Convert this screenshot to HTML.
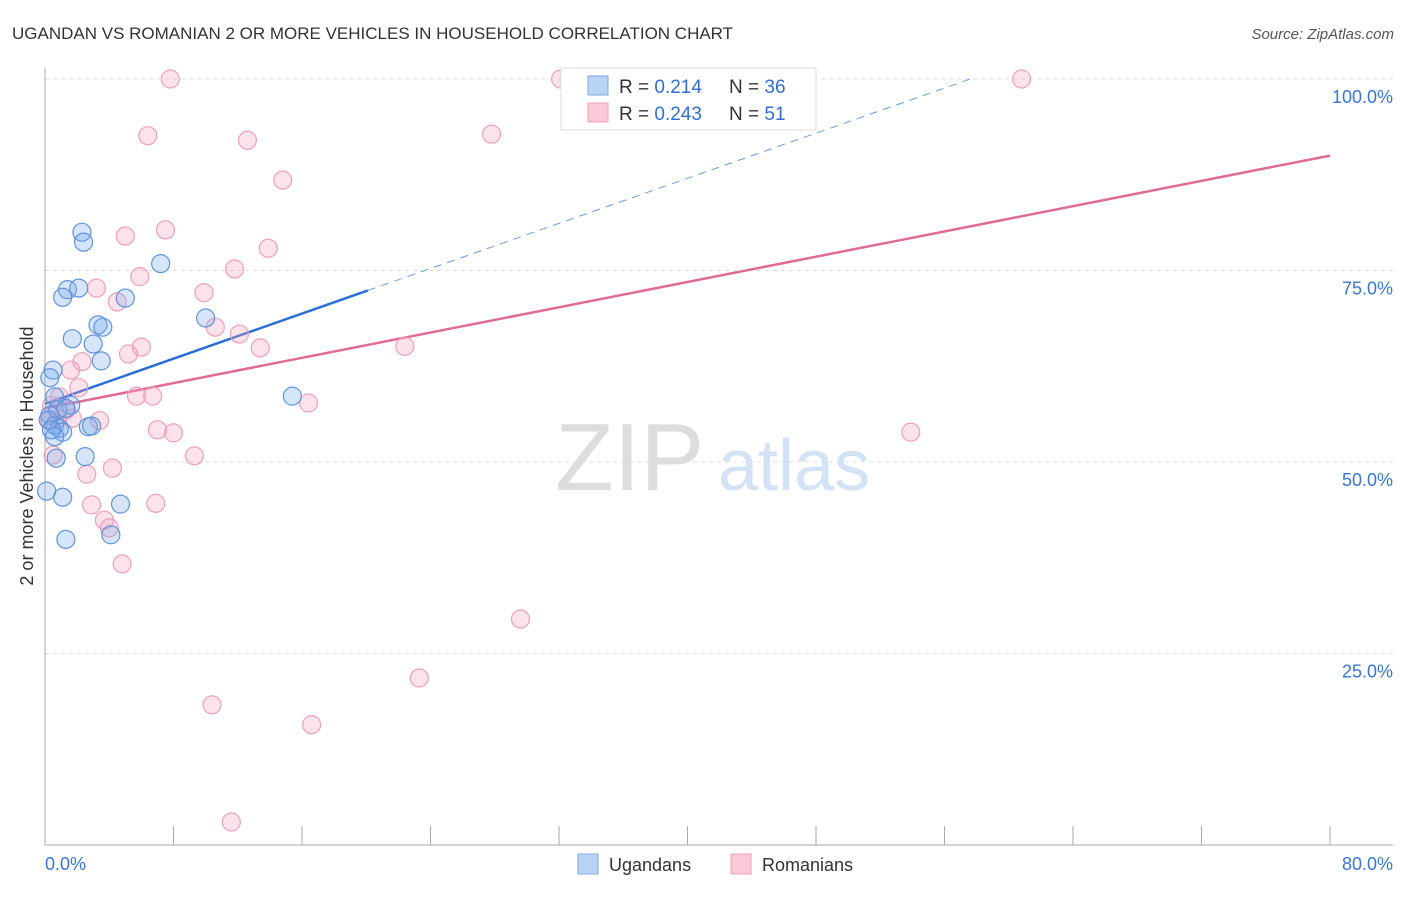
<!DOCTYPE html>
<html><head><meta charset="utf-8"><style>
body{margin:0;background:#fff;font-family:"Liberation Sans",sans-serif;}
svg text{font-family:"Liberation Sans",sans-serif;}
</style></head><body>
<svg id="chart" width="1406" height="892" viewBox="0 0 1406 892">
<text x="12" y="39" font-size="17" fill="#333">UGANDAN VS ROMANIAN 2 OR MORE VEHICLES IN HOUSEHOLD CORRELATION CHART</text>
<text x="1394" y="39" font-size="15" fill="#555" font-style="italic" text-anchor="end">Source: ZipAtlas.com</text>
<text x="0" y="0" transform="translate(33,456) rotate(-90)" font-size="18" fill="#333" text-anchor="middle">2 or more Vehicles in Household</text>
<g id="grid"></g>
<g>
<text x="555" y="490" font-size="96" fill="#ddd" font-family="Liberation Serif">ZIP</text>
<text x="718" y="490" font-size="72" fill="#d3e2f5">atlas</text>
</g>
<g id="trend"></g>
<g id="pts"></g>
<g>
<rect x="561" y="68" width="255" height="62" fill="#fff" stroke="#ddd"/>
<rect x="588" y="76" width="20" height="19" fill="#b9d3f5" stroke="#7ea9e3"/>
<rect x="588" y="103" width="20" height="19" fill="#fbc8d7" stroke="#eea0b8"/>
<text x="619" y="93" font-size="19" fill="#333">R = <tspan fill="#2f6fd4"> 0.214</tspan></text>
<text x="729" y="93" font-size="19" fill="#333">N = <tspan fill="#2f6fd4"> 36</tspan></text>
<text x="619" y="120" font-size="19" fill="#333">R = <tspan fill="#2f6fd4">0.243</tspan></text>
<text x="729" y="120" font-size="19" fill="#333">N = <tspan fill="#2f6fd4"> 51</tspan></text>
</g>
<g>
<rect x="578" y="854" width="20" height="20" fill="#b9d3f5" stroke="#7ea9e3"/>
<text x="609" y="871" font-size="18" fill="#333">Ugandans</text>
<rect x="731" y="854" width="20" height="20" fill="#fbc8d7" stroke="#eea0b8"/>
<text x="762" y="871" font-size="18" fill="#333">Romanians</text>
</g>
</svg>
<script>
const ugX=[2.3,2.4,7.2,1.4,1.1,2.1,5.0,10.0,3.3,3.6,1.7,3.0,3.5,0.5,0.3,15.4,0.6,1.6,0.3,0.6,0.9,1.1,2.7,2.9,0.6,0.7,2.5,0.1,1.1,4.7,1.3,4.1,0.2,0.4,0.8,1.3];
const ugY=[80.0,78.7,75.9,72.5,71.5,72.7,71.4,68.8,67.9,67.6,66.1,65.4,63.2,62.0,61.0,58.6,58.5,57.4,56.1,54.8,54.4,53.9,54.6,54.7,53.3,50.5,50.7,46.2,45.4,44.5,39.9,40.5,55.5,54.2,56.8,57.0];
const roX=[7.8,32.1,60.8,6.4,12.6,27.8,14.8,5.0,7.5,13.9,11.8,5.9,3.2,9.9,4.5,10.6,12.1,6.0,13.4,5.2,22.4,2.3,1.6,2.1,5.7,6.7,0.9,16.4,0.4,1.3,0.8,3.4,1.7,7.0,8.0,53.9,9.3,0.5,4.2,2.6,2.9,6.9,3.7,4.0,4.8,29.6,23.3,10.4,16.6,11.6,0.3];
const roY=[100,100,100,92.6,92.0,92.8,86.8,79.5,80.3,77.9,75.2,74.2,72.7,72.1,70.9,67.6,66.7,65.0,64.9,64.1,65.1,63.1,62.0,59.7,58.6,58.6,58.5,57.7,57.4,56.8,55.7,55.4,55.7,54.2,53.8,53.9,50.8,50.9,49.2,48.4,44.4,44.6,42.4,41.4,36.7,29.5,21.8,18.3,15.7,3.0,55.5];
const yTicks=[25,50,75,100];
const yTickLabels=["25.0%","50.0%","75.0%","100.0%"];
const xTicks=[0,8,16,24,32,40,48,56,64,72,80];
const ugTrend=[57.6,0.736];
const roTrend=[57.0,0.4125];
const NS="http://www.w3.org/2000/svg";
const sx=v=>45+v*16.0625;
const sy=v=>845-v*7.66;
function mk(tag,attrs,parent){const e=document.createElementNS(NS,tag);for(const k in attrs)e.setAttribute(k,attrs[k]);parent.appendChild(e);return e;}
const grid=document.getElementById('grid');
yTicks.forEach((t,i)=>{
 const l=mk('line',{x1:45,x2:1393,y1:sy(t),y2:sy(t),stroke:'#ddd','stroke-dasharray':'4,4'},grid);
 
 
 const tx=mk('text',{x:1393,y:sy(t)+24,'font-size':18,fill:'#3a75d6','text-anchor':'end'},grid);
 tx.textContent=yTickLabels[i];
 
 
});
const ax=mk('line',{x1:45,x2:45,y1:68,y2:845,stroke:'#aaa'},grid);


const bx=mk('line',{x1:45,x2:1393,y1:845,y2:845,stroke:'#aaa'},grid);


xTicks.forEach(t=>{
 const l=mk('line',{x1:sx(t),x2:sx(t),y1:826,y2:845,stroke:'#aaa'},grid);
 
 
});
const xl0=mk('text',{x:45,y:870,'font-size':18,fill:'#3a75d6'},grid);xl0.textContent=xTicks[0].toFixed(1)+'%';


const xl1=mk('text',{x:1393,y:870,'font-size':18,fill:'#3a75d6','text-anchor':'end'},grid);xl1.textContent=xTicks[xTicks.length-1].toFixed(1)+'%';


const tr=document.getElementById('trend');
const ugEndSolid=Math.max(...ugX)+4.7;
const ugEndDash=(100-ugTrend[0])/ugTrend[1];
const t1=mk('line',{x1:sx(0),y1:sy(ugTrend[0]),x2:sx(ugEndSolid),y2:sy(ugTrend[0]+ugTrend[1]*ugEndSolid),stroke:'#2d6fd6','stroke-width':2.5},tr);


const t2=mk('line',{x1:sx(ugEndSolid),y1:sy(ugTrend[0]+ugTrend[1]*ugEndSolid),x2:sx(ugEndDash),y2:sy(100),stroke:'#6b9be0','stroke-width':1,'stroke-dasharray':'8,6'},tr);


const t3=mk('line',{x1:sx(0),y1:sy(roTrend[0]),x2:sx(80),y2:sy(roTrend[0]+roTrend[1]*80),stroke:'#e06b93','stroke-width':2.5},tr);


const pts=document.getElementById('pts');
roX.forEach((x,i)=>{
 const c=mk('circle',{cx:sx(x),cy:sy(roY[i]),r:9,fill:'rgba(244,160,190,0.3)',stroke:'#eda0ba','stroke-width':1.2},pts);
 
 
});
ugX.forEach((x,i)=>{
 const c=mk('circle',{cx:sx(x),cy:sy(ugY[i]),r:9,fill:'rgba(120,170,235,0.3)',stroke:'#5f93dc','stroke-width':1.2},pts);
 
 
});
</script>
</body></html>
